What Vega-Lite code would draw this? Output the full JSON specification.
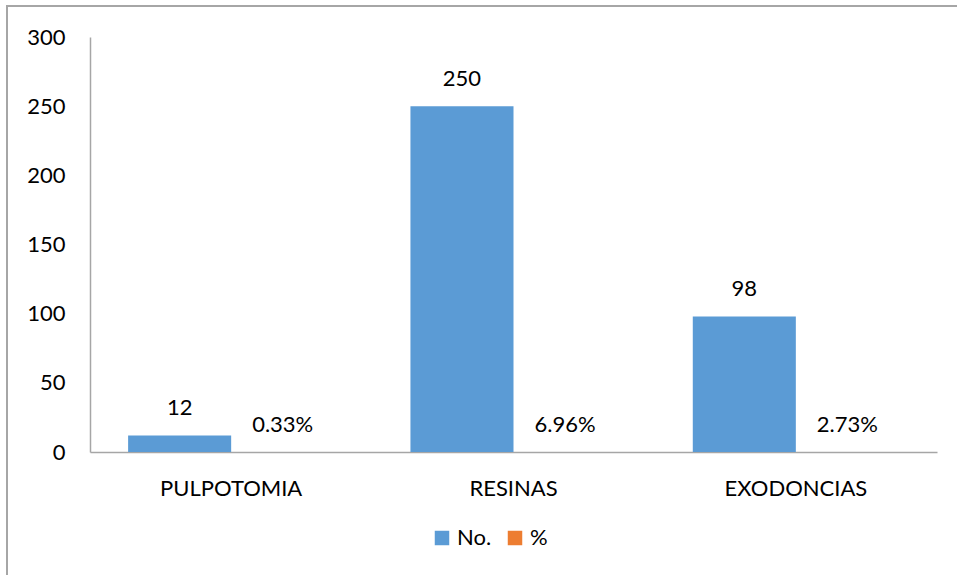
{
  "$schema": "https://vega.github.io/schema/vega-lite/v6.json",
  "autosize": {"type": "none"},
  "padding": {"left": 7, "top": 6, "right": 0, "bottom": 0},
  "width": 953,
  "height": 572,
  "background": "white",
  "config": {
    "view": {"stroke": "#A6A6A6", "strokeWidth": 2},
    "font": "Lato",
    "axis": {"labelFont": "Lato", "labelColor": "#000000", "domainColor": "#A6A6A6", "domainWidth": 1.5, "grid": false, "ticks": false}
  },
  "data": {
    "values": [
      {"tratamiento": "PULPOTOMIA", "serie": "No.", "valor": 12},
      {"tratamiento": "PULPOTOMIA", "serie": "%", "valor": 0.0033},
      {"tratamiento": "RESINAS", "serie": "No.", "valor": 250},
      {"tratamiento": "RESINAS", "serie": "%", "valor": 0.0696},
      {"tratamiento": "EXODONCIAS", "serie": "No.", "valor": 98},
      {"tratamiento": "EXODONCIAS", "serie": "%", "valor": 0.0273}
    ]
  },
  "encoding": {
    "x": {
      "field": "tratamiento",
      "type": "nominal",
      "sort": ["PULPOTOMIA", "RESINAS", "EXODONCIAS"],
      "scale": {"range": [83, 930], "paddingInner": 0.27, "paddingOuter": 0.135},
      "axis": {"title": null, "labelAngle": 0, "labelFontSize": 22, "labelPadding": 26, "offset": -126}
    },
    "xOffset": {
      "field": "serie",
      "type": "nominal",
      "scale": {"domain": ["No.", "%"], "paddingInner": 0, "paddingOuter": 0}
    },
    "y": {
      "field": "valor",
      "type": "quantitative",
      "scale": {"domain": [0, 300], "range": [446, 31], "nice": false},
      "axis": {"title": null, "values": [0, 50, 100, 150, 200, 250, 300], "labelFontSize": 22, "labelPadding": 25, "offset": -83}
    }
  },
  "layer": [
    {
      "mark": {"type": "bar"},
      "encoding": {
        "color": {
          "field": "serie",
          "type": "nominal",
          "scale": {"domain": ["No.", "%"], "range": ["#5B9BD5", "#ED7D31"]},
          "legend": {
            "title": null,
            "orient": "none",
            "direction": "horizontal",
            "legendX": 424,
            "legendY": 521,
            "symbolType": "square",
            "symbolSize": 210,
            "symbolStrokeWidth": 0,
            "labelFontSize": 22,
            "labelColor": "#000000",
            "labelFont": "Lato",
            "columnPadding": 12
          }
        }
      }
    },
    {
      "transform": [{"filter": "datum.serie === 'No.'"}],
      "mark": {"type": "text", "baseline": "middle", "dy": -27, "fontSize": 22, "color": "#000000"},
      "encoding": {"text": {"field": "valor", "type": "quantitative", "format": "d"}}
    },
    {
      "transform": [{"filter": "datum.serie === '%'"}],
      "mark": {"type": "text", "baseline": "middle", "dy": -27, "fontSize": 22, "color": "#000000"},
      "encoding": {"text": {"field": "valor", "type": "quantitative", "format": ".2%"}}
    }
  ]
}
